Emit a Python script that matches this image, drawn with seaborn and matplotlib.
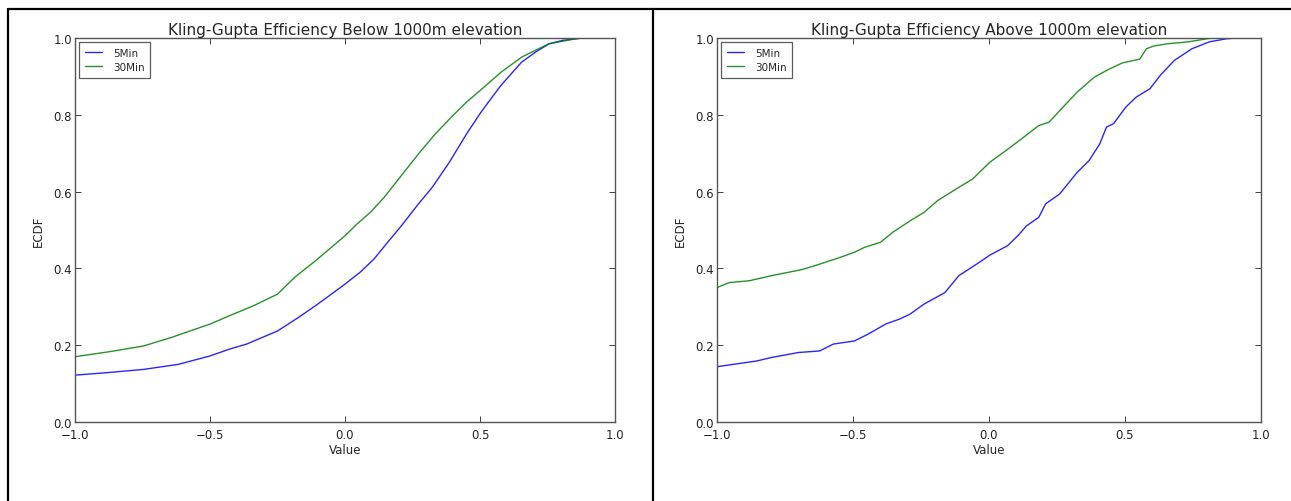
import numpy as np
import pandas as pd
import matplotlib
matplotlib.use("Agg")
import matplotlib.pyplot as plt
from matplotlib.lines import Line2D
import seaborn as sns

# ---- data ----
below_5_x = [-1.0, -0.873, -0.746, -0.618, -0.5, -0.427, -0.364, -0.25, -0.173, -0.109, -0.058,
             0.0, 0.056, 0.107, 0.158, 0.209, 0.272, 0.323, 0.387, 0.45, 0.5, 0.527, 0.578,
             0.654, 0.705, 0.756, 0.807, 0.883, 1.0]
below_5_y = [0.122, 0.129, 0.137, 0.150, 0.172, 0.190, 0.203, 0.237, 0.272, 0.303, 0.329,
             0.359, 0.39, 0.424, 0.468, 0.511, 0.568, 0.611, 0.677, 0.75, 0.803, 0.829, 0.877,
             0.937, 0.963, 0.985, 0.994, 1.0, 1.0]
below_30_x = [-1.0, -0.873, -0.746, -0.644, -0.5, -0.427, -0.338, -0.25, -0.186, -0.109, 0.0,
              0.045, 0.094, 0.145, 0.209, 0.272, 0.329, 0.399, 0.45, 0.5, 0.578, 0.654, 0.705,
              0.756, 0.87, 1.0]
below_30_y = [0.170, 0.183, 0.198, 0.22, 0.255, 0.277, 0.303, 0.333, 0.377, 0.42, 0.485,
              0.516, 0.546, 0.585, 0.642, 0.698, 0.746, 0.798, 0.833, 0.863, 0.911, 0.95, 0.968,
              0.985, 1.0, 1.0]

above_5_x = [-1.0, -0.853, -0.80, -0.70, -0.623, -0.572, -0.495, -0.444, -0.38, -0.329, -0.29,
             -0.239, -0.162, -0.111, -0.035, 0.004, 0.068, 0.106, 0.138, 0.183, 0.208, 0.26,
             0.324, 0.368, 0.407, 0.432, 0.458, 0.503, 0.541, 0.592, 0.63, 0.682, 0.746,
             0.81, 0.873, 0.912, 1.0]
above_5_y = [0.144, 0.159, 0.168, 0.181, 0.185, 0.203, 0.211, 0.229, 0.255, 0.268, 0.281,
             0.307, 0.337, 0.381, 0.416, 0.435, 0.459, 0.485, 0.511, 0.533, 0.568, 0.594,
             0.65, 0.681, 0.724, 0.768, 0.777, 0.82, 0.846, 0.868, 0.903, 0.942, 0.972,
             0.99, 0.998, 1.0, 1.0]
above_30_x = [-1.0, -0.955, -0.88, -0.80, -0.687, -0.623, -0.546, -0.495, -0.457, -0.399,
              -0.354, -0.29, -0.239, -0.188, -0.111, -0.06, 0.004, 0.055, 0.119, 0.183, 0.221,
              0.272, 0.324, 0.387, 0.439, 0.49, 0.554, 0.579, 0.605, 0.656, 0.733, 0.81,
              0.848, 1.0]
above_30_y = [0.350, 0.363, 0.368, 0.381, 0.397, 0.411, 0.429, 0.442, 0.455, 0.468,
              0.494, 0.524, 0.546, 0.577, 0.611, 0.633, 0.677, 0.703, 0.737, 0.772, 0.781,
              0.82, 0.859, 0.898, 0.918, 0.935, 0.945, 0.972, 0.979, 0.985, 0.99, 0.999,
              1.0, 1.0]

series_names = ["5Min", "30Min"]
titles = ["Kling-Gupta Efficiency Below 1000m elevation",
          "Kling-Gupta Efficiency Above 1000m elevation"]
ticks = [-1.0, -0.5, 0.0, 0.5, 1.0]
yticks = [0.0, 0.2, 0.4, 0.6, 0.8, 1.0]

sns.set_style("ticks")
plt.rcParams["font.family"] = ["DejaVu Sans"]
plt.rcParams["xtick.direction"] = "in"
plt.rcParams["ytick.direction"] = "in"
plt.rcParams["axes.edgecolor"] = "#444444"

fig = plt.figure(figsize=(12.91, 5.02), dpi=100)
ax1 = fig.add_axes([75/1291, 1-423/502, 540/1291, 384/502])
ax2 = fig.add_axes([717/1291, 1-423/502, 544/1291, 384/502])

panels = [
    (ax1, below_5_x, below_5_y, below_30_x, below_30_y),
    (ax2, above_5_x, above_5_y, above_30_x, above_30_y),
]
palette = {"5Min": "#0000ff", "30Min": "#008000"}

for i, (ax, x5, y5, x30, y30) in enumerate(panels):
    df = pd.DataFrame({
        "Value": list(x5) + list(x30),
        "ECDF": list(y5) + list(y30),
        "series": ["5Min"] * len(x5) + ["30Min"] * len(x30),
    })
    sns.lineplot(data=df, x="Value", y="ECDF", hue="series", hue_order=series_names,
                 palette=palette, estimator=None, sort=True, ax=ax, linewidth=1.0, alpha=0.85)
    ax.set_xlim(-1, 1)
    ax.set_ylim(0, 1)
    ax.set_xticks(ticks)
    ax.set_yticks(yticks)
    ax.set_xticklabels([f"{t:.1f}".replace("-", "\u2212") for t in ticks], fontsize=8.5)
    ax.set_yticklabels([f"{t:.1f}" for t in yticks], fontsize=8.5)
    ax.tick_params(top=True, right=True, length=4, width=0.6, colors="#222222",
                   labelcolor="#222222")
    ax.tick_params(axis="x", pad=4)
    ax.tick_params(axis="y", pad=2)
    ax.set_xlabel("Value", fontsize=8.5, labelpad=2)
    ax.set_ylabel("ECDF", fontsize=8.5, labelpad=6)
    ax.set_title(titles[i], fontsize=11, pad=3)
    for s in ax.spines.values():
        s.set_linewidth(1.0)
        s.set_color("#555555")
    leg = ax.legend(loc="upper left", fontsize=7.5, frameon=True, fancybox=False,
                    handlelength=1.6, borderpad=0.55, labelspacing=0.4, handletextpad=1.1,
                    borderaxespad=0.4)
    leg.get_frame().set_edgecolor("#333333")
    leg.get_frame().set_linewidth(0.9)
    leg.set_title(None)

# table-like frame around panels
border = dict(color="black", linewidth=1.6, transform=fig.transFigure)
fig.add_artist(Line2D([8/1291, 1.0], [1-9.5/502, 1-9.5/502], **border))
fig.add_artist(Line2D([8/1291, 8/1291], [0, 1-9.5/502], **border))
fig.add_artist(Line2D([653/1291, 653/1291], [0, 1-9.5/502], **border))

fig.savefig("out.png", dpi=100)
